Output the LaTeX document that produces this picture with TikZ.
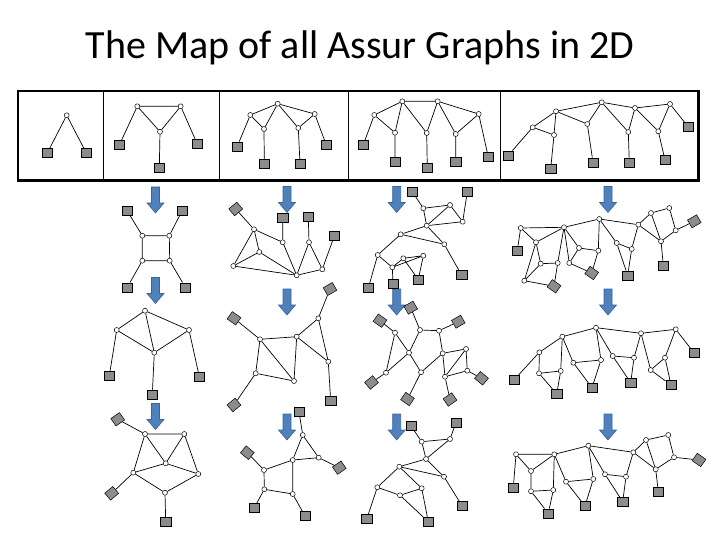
\documentclass[tikz,border=0pt]{standalone}
\usepackage{fontspec}
\setmainfont{Carlito}
\definecolor{ground}{HTML}{8C8C8C}
\definecolor{arrowfill}{HTML}{4F81BD}
\definecolor{arrowline}{HTML}{3B6496}
\begin{document}
\begin{tikzpicture}[
  x=1pt,y=-1pt,
  jt/.style={circle,draw,fill=white,inner sep=0pt,minimum size=5pt,line width=0.5pt},
  gd/.style={draw,fill=ground,inner sep=0pt,minimum width=10.5pt,minimum height=9pt,line width=0.5pt},
  ln/.style={line width=0.7pt},
  ar/.style={draw=arrowline,fill=arrowfill,line width=0.6pt},
  frame/.style={line width=2.5pt}]
\useasboundingbox (0,0) rectangle (720,540);
\node[font=\fontsize{40}{48}\selectfont,anchor=base] (title) at (360,59) {The Map of all Assur Graphs in 2D};

% top row of basic graphs
\draw[frame] (18,91) rectangle (698.5,180.5);
\draw[line width=1pt] (103.3,91)--(103.3,180.5) (219,91)--(219,180.5)
  (348,91)--(348,180.5) (500.5,91)--(500.5,180.5);

\node[jt] (a1) at (66.7,115.3) {};
\node[gd] (ag1) at (47.3,153) {}; \node[gd] (ag2) at (86.3,153) {};
\draw[ln] (a1)--(ag1) (a1)--(ag2);

\node[jt] (b1) at (137.3,106.3) {}; \node[jt] (b2) at (180.7,106.3) {};
\node[jt] (b3) at (160,131.7) {};
\node[gd] (bg1) at (119.3,145) {}; \node[gd] (bg2) at (197.3,144) {};
\node[gd] (bg3) at (159.3,168) {};
\draw[ln] (b1)--(b2) (b1)--(b3) (b2)--(b3) (b1)--(bg1) (b2)--(bg2) (b3)--(bg3);

\node[jt] (c1) at (277.7,103.7) {}; \node[jt] (c2) at (250.3,115) {};
\node[jt] (c3) at (314.7,114) {}; \node[jt] (c4) at (264,129) {};
\node[jt] (c5) at (298.3,128) {};
\node[gd] (cg1) at (237.3,146.3) {}; \node[gd] (cg2) at (264.3,164) {};
\node[gd] (cg3) at (300,164) {}; \node[gd] (cg4) at (326.3,145) {};
\draw[ln] (c1)--(c2) (c1)--(c3) (c1)--(c4) (c1)--(c5) (c2)--(c4) (c3)--(c5)
  (c2)--(cg1) (c4)--(cg2) (c5)--(cg3) (c3)--(cg4);

\node[jt] (d1) at (402.3,101.3) {}; \node[jt] (d2) at (437.7,101.3) {};
\node[jt] (d3) at (374.3,115) {}; \node[jt] (d4) at (478.7,114) {};
\node[jt] (d5) at (395,132.7) {}; \node[jt] (d6) at (426.7,133) {};
\node[jt] (d7) at (455.7,134) {};
\node[gd] (dg1) at (363.3,144.7) {}; \node[gd] (dg2) at (395,162) {};
\node[gd] (dg3) at (427.3,167.7) {}; \node[gd] (dg4) at (455.7,162) {};
\node[gd] (dg5) at (488.3,157) {};
\draw[ln] (d1)--(d2) (d1)--(d3) (d2)--(d4) (d3)--(d5) (d1)--(d5) (d1)--(d6)
  (d2)--(d6) (d2)--(d7) (d4)--(d7) (d3)--(dg1) (d5)--(dg2) (d6)--(dg3)
  (d7)--(dg4) (d4)--(dg5);

\node[jt] (e1) at (532.7,127.3) {}; \node[jt] (e2) at (556,111.3) {};
\node[jt] (e3) at (554,135) {}; \node[jt] (e4) at (601.7,102.3) {};
\node[jt] (e5) at (587.3,124) {}; \node[jt] (e6) at (635,108) {};
\node[jt] (e7) at (628.3,132) {}; \node[jt] (e8) at (670,104) {};
\node[jt] (e9) at (658.3,131.3) {};
\node[gd] (eg1) at (508.3,155.3) {}; \node[gd] (eg2) at (550.7,168.7) {};
\node[gd] (eg3) at (593,162.3) {}; \node[gd] (eg4) at (629.3,163) {};
\node[gd] (eg5) at (665,160) {}; \node[gd] (eg6) at (688.3,127) {};
\draw[ln] (e1)--(eg1) (e1)--(e2) (e1)--(e3) (e2)--(e3) (e2)--(e4) (e2)--(e5)
  (e4)--(e5) (e4)--(e6) (e4)--(e7) (e6)--(e7) (e6)--(e8) (e6)--(e9) (e8)--(e9)
  (e8)--(eg6) (e3)--(eg2) (e5)--(eg3) (e7)--(eg4) (e9)--(eg5);

% blue arrows
\foreach \x/\y in {155.5/187,155.5/277.5,155.5/403.5,287/186.5,287/289,287/414,
    396.7/186.5,396.7/289,396.7/414,608/186.5,608/289,608/414}
  \draw[ar] (\x,\y) ++(-4,0) -- ++(8,0) -- ++(0,16) -- ++(4.5,0) -- ++(-8.5,10)
    -- ++(-8.5,-10) -- ++(4.5,0) -- cycle;

% column 1
\node[jt] (f1) at (142.3,235.7) {}; \node[jt] (f2) at (169.3,235.7) {};
\node[jt] (f3) at (142.3,260.7) {}; \node[jt] (f4) at (169.7,260.7) {};
\node[gd] (fg1) at (127.3,211) {}; \node[gd] (fg2) at (182,211) {};
\node[gd] (fg3) at (127.3,287.3) {}; \node[gd] (fg4) at (185.3,287.3) {};
\draw[ln] (f1)--(f2) (f2)--(f4) (f4)--(f3) (f3)--(f1) (f1)--(fg1) (f2)--(fg2)
  (f3)--(fg3) (f4)--(fg4);

\node[jt] (p1) at (145,310.7) {}; \node[jt] (p2) at (116.7,330) {};
\node[jt] (p3) at (189,330) {}; \node[jt] (p4) at (154.3,352.7) {};
\node[gd] (pg1) at (109.3,375.7) {}; \node[gd] (pg2) at (152.3,394.3) {};
\node[gd] (pg3) at (199.3,376.7) {};
\draw[ln] (p1)--(p2) (p1)--(p3) (p1)--(p4) (p2)--(p4) (p3)--(p4) (p2)--(pg1)
  (p4)--(pg2) (p3)--(pg3);

\node[jt] (u1) at (145,434) {}; \node[jt] (u2) at (184.3,434) {};
\node[jt] (u3) at (165.7,463.3) {}; \node[jt] (u4) at (133.3,472.7) {};
\node[jt] (u5) at (198.3,474) {}; \node[jt] (u6) at (165,492.7) {};
\node[gd,rotate=35] (ug1) at (117.7,419.3) {}; \node[gd,rotate=40] (ug2) at (111.7,493.3) {};
\node[gd] (ug3) at (165.7,521.7) {};
\draw[ln] (ug1)--(u1) (u1)--(u2) (u1)--(u3) (u2)--(u3) (u1)--(u4) (u2)--(u5)
  (u3)--(u4) (u3)--(u5) (u4)--(u6) (u5)--(u6) (u4)--(ug2) (u6)--(ug3);

% column 2
\node[jt] (h1) at (254,229.3) {}; \node[jt] (h2) at (259.3,252) {};
\node[jt] (h3) at (233.3,266) {}; \node[jt] (h4) at (296.7,275.3) {};
\node[jt] (h5) at (282.7,242.3) {}; \node[jt] (h6) at (309,242.3) {};
\node[jt] (h7) at (322.3,269.3) {};
\node[gd,rotate=40] (hg1) at (235.7,209) {}; \node[gd] (hg2) at (282.7,217.7) {};
\node[gd] (hg3) at (308.3,216.7) {}; \node[gd] (hg4) at (334.3,236) {};
\draw[ln] (hg1)--(h1) (h1)--(h2) (h1)--(h3) (h2)--(h3) (h2)--(h4) (h3)--(h4)
  (h1)--(h5) (h5)--(hg2) (h5)--(h4) (h4)--(h6) (h6)--(hg3) (h6)--(h7)
  (h4)--(h7) (h7)--(hg4);

\node[jt] (q1) at (260,339.3) {}; \node[jt] (q2) at (296.7,336.7) {};
\node[jt] (q3) at (318.3,318.3) {}; \node[jt] (q4) at (328.3,361.7) {};
\node[jt] (q5) at (255.7,373.3) {}; \node[jt] (q6) at (294,381) {};
\node[gd,rotate=-35] (qg1) at (234,318.3) {}; \node[gd,rotate=30] (qg2) at (330,289) {};
\node[gd] (qg3) at (330.7,401) {}; \node[gd,rotate=40] (qg4) at (234,405) {};
\draw[ln] (qg1)--(q1) (q1)--(q2) (q1)--(q5) (q1)--(q6) (q5)--(q6) (q2)--(q6)
  (q2)--(q3) (q3)--(qg2) (q3)--(q4) (q2)--(q4) (q4)--(qg3) (q5)--(qg4);

\node[jt] (v1) at (302.7,435) {}; \node[jt] (v2) at (292.7,460) {};
\node[jt] (v3) at (318.7,457.7) {}; \node[jt] (v4) at (264,470) {};
\node[jt] (v5) at (264.3,489.3) {}; \node[jt] (v6) at (292.7,494) {};
\node[gd] (vg1) at (299,411.7) {}; \node[gd,rotate=-40] (vg2) at (247.3,452.7) {};
\node[gd,rotate=35] (vg3) at (339.3,467.7) {}; \node[gd] (vg4) at (254.3,507.7) {};
\node[gd] (vg5) at (305,516) {};
\draw[ln] (vg1)--(v1) (v1)--(v2) (v1)--(v3) (v2)--(v3) (v3)--(vg3) (v2)--(v4)
  (v2)--(v6) (v4)--(v5) (v5)--(v6) (v4)--(vg2) (v5)--(vg4) (v6)--(vg5);

% column 3
\node[jt] (m1) at (423.3,208.3) {}; \node[jt] (m2) at (450,205) {};
\node[jt] (m3) at (462.7,221.7) {}; \node[jt] (m4) at (426.7,225.7) {};
\node[jt] (m5) at (400.7,234.3) {}; \node[jt] (m6) at (444.3,244.3) {};
\node[jt] (m7) at (377.7,255) {}; \node[jt] (m8) at (392.3,267.3) {};
\node[jt] (m9) at (403.3,258.3) {}; \node[jt] (m10) at (423.3,255.7) {};
\node[gd] (mg1) at (412.3,191.7) {}; \node[gd] (mg2) at (467.3,191.7) {};
\node[gd] (mg3) at (368.3,288) {}; \node[gd] (mg4) at (393,283.7) {};
\node[gd] (mg5) at (418.3,279.7) {}; \node[gd] (mg6) at (461.5,275) {};
\draw[ln] (mg1)--(m1) (m1)--(m2) (m1)--(m4) (m2)--(m4) (m2)--(m3) (m4)--(m3)
  (m3)--(mg2) (m4)--(m5) (m4)--(m6) (m5)--(m6) (m6)--(mg6) (m5)--(m7)
  (m7)--(mg3) (m7)--(m8) (m8)--(mg4) (m8)--(m9) (m9)--(m10) (m8)--(m10)
  (m9)--(mg5) (m10)--(mg5);

\node[jt] (r1) at (395,332.7) {}; \node[jt] (r2) at (420,330) {};
\node[jt] (r3) at (439,330.7) {}; \node[jt] (r4) at (409,352.7) {};
\node[jt] (r5) at (442.7,353.3) {}; \node[jt] (r6) at (466,349) {};
\node[jt] (r7) at (386,372.7) {}; \node[jt] (r8) at (421,372.3) {};
\node[jt] (r9) at (467.3,370.7) {}; \node[jt] (r10) at (445,376.7) {};
\node[gd,rotate=30] (rg1) at (410.7,307.7) {}; \node[gd,rotate=-35] (rg2) at (380,320.7) {};
\node[gd,rotate=30] (rg3) at (458.3,321.7) {}; \node[gd,rotate=40] (rg4) at (371.5,382.5) {};
\node[gd,rotate=-35] (rg5) at (407.5,399) {}; \node[gd,rotate=35] (rg6) at (450,399.5) {};
\node[gd,rotate=-40] (rg7) at (481.5,378.3) {};
\draw[ln] (rg1)--(r2) (rg2)--(r1) (r1)--(r4) (r1)--(r7) (r4)--(r7) (r4)--(r2)
  (r4)--(r8) (r2)--(r3) (r3)--(rg3) (r3)--(r5) (r5)--(r8) (r8)--(rg5)
  (r7)--(rg4) (r5)--(r6) (r5)--(r10) (r6)--(r9) (r6)--(r10) (r9)--(r10)
  (r10)--(rg6) (r9)--(rg7);

\node[jt] (w1) at (421.7,441.7) {}; \node[jt] (w2) at (450,439) {};
\node[jt] (w3) at (426,459) {}; \node[jt] (w4) at (399.3,466.7) {};
\node[jt] (w5) at (444,476.7) {}; \node[jt] (w6) at (377.3,487.3) {};
\node[jt] (w7) at (400,495.3) {}; \node[jt] (w8) at (421.7,488.3) {};
\node[gd] (wg1) at (411,426) {}; \node[gd] (wg2) at (456,422.7) {};
\node[gd] (wg3) at (366.7,519) {}; \node[gd] (wg4) at (428.3,521.7) {};
\node[gd] (wg5) at (462,505.7) {};
\draw[ln] (wg1)--(w1) (w1)--(w2) (w1)--(w3) (w2)--(w3) (w2)--(wg2) (w3)--(w4)
  (w3)--(w5) (w4)--(w5) (w5)--(wg5) (w4)--(w6) (w6)--(wg3) (w6)--(w7)
  (w7)--(w8) (w7)--(wg4) (w8)--(wg4) (w4)--(w8);

% column 4
\node[jt] (n1) at (520.7,228) {}; \node[jt] (n2) at (536,242.3) {};
\node[jt] (n3) at (540.7,263.7) {}; \node[jt] (n4) at (557.7,263) {};
\node[jt] (n5) at (524.3,280.7) {}; \node[jt] (n6) at (564,227.3) {};
\node[jt] (n7) at (579,248) {}; \node[jt] (n8) at (598.3,250.7) {};
\node[jt] (n9) at (569.3,263) {}; \node[jt] (n10) at (599.3,219) {};
\node[jt] (n11) at (616.7,243) {}; \node[jt] (n12) at (631.7,249) {};
\node[jt] (n13) at (638.3,224.7) {}; \node[jt] (n14) at (651,213) {};
\node[jt] (n15) at (669.3,208) {}; \node[jt] (n16) at (675.7,230.3) {};
\node[jt] (n17) at (661,241.3) {};
\node[gd] (ng1) at (517.3,250.3) {}; \node[gd,rotate=-35] (ng2) at (554,286.3) {};
\node[gd,rotate=-35] (ng3) at (591.7,273) {}; \node[gd] (ng4) at (627.7,275.3) {};
\node[gd] (ng5) at (663.3,265.3) {}; \node[gd,rotate=30] (ng6) at (694.3,221.3) {};
\draw[ln] (n1)--(ng1) (n1)--(n6) (n1)--(n2) (n2)--(n6) (n2)--(n3) (n2)--(n5)
  (n3)--(n4) (n3)--(n5) (n5)--(ng2) (n4)--(ng2) (n4)--(n6)
  (n6)--(n10) (n6)--(n9) (n6)--(n7) (n7)--(n8) (n8)--(n10) (n8)--(ng3)
  (n9)--(ng3) (n7)--(n9)
  (n10)--(n11) (n10)--(n13) (n11)--(n12) (n11)--(ng4) (n12)--(ng4) (n12)--(n13)
  (n13)--(n14) (n13)--(n17) (n14)--(n15) (n14)--(n17) (n15)--(n16) (n16)--(n17)
  (n16)--(ng6) (n17)--(ng5);

\node[jt] (s1) at (539.3,352.3) {}; \node[jt] (s2) at (562.3,336.7) {};
\node[jt] (s3) at (539,373.3) {}; \node[jt] (s4) at (560.7,371) {};
\node[jt] (s5) at (596,327.7) {}; \node[jt] (s6) at (573.3,362.7) {};
\node[jt] (s7) at (601,360) {}; \node[jt] (s8) at (641,333.3) {};
\node[jt] (s9) at (612.7,356) {}; \node[jt] (s10) at (634,357.7) {};
\node[jt] (s11) at (675.7,329.3) {}; \node[jt] (s12) at (665,357.7) {};
\node[jt] (s13) at (650.7,370) {};
\node[gd] (sg1) at (514,380) {}; \node[gd] (sg2) at (556.7,394) {};
\node[gd] (sg3) at (592,387.7) {}; \node[gd] (sg4) at (630.7,382.7) {};
\node[gd] (sg5) at (671,385) {}; \node[gd] (sg6) at (694,352.7) {};
\draw[ln] (s1)--(sg1) (s1)--(s2) (s1)--(s3) (s2)--(s4) (s3)--(s4) (s3)--(sg2)
  (s4)--(sg2) (s2)--(s5) (s2)--(s6) (s6)--(s7) (s7)--(s5) (s6)--(sg3)
  (s7)--(sg3) (s5)--(s8) (s5)--(s9) (s9)--(s10) (s10)--(s8) (s9)--(sg4)
  (s10)--(sg4) (s8)--(s11) (s8)--(s13) (s11)--(s12) (s12)--(s13)
  (s11)--(sg6) (s13)--(sg5) (s12)--(sg5);

\node[jt] (x1) at (516,454.3) {}; \node[jt] (x2) at (531,471) {};
\node[jt] (x3) at (531,491.3) {}; \node[jt] (x4) at (553.3,490) {};
\node[jt] (x5) at (554.3,454.3) {}; \node[jt] (x6) at (588.3,445.7) {};
\node[jt] (x7) at (566,481.7) {}; \node[jt] (x8) at (593.3,479) {};
\node[jt] (x9) at (605,474.3) {}; \node[jt] (x10) at (626,476.7) {};
\node[jt] (x11) at (633.3,452.3) {}; \node[jt] (x12) at (646,440) {};
\node[jt] (x13) at (668.3,435) {}; \node[jt] (x14) at (674,457.3) {};
\node[jt] (x15) at (655.7,469.3) {};
\node[gd] (xg1) at (513.3,487.3) {}; \node[gd] (xg2) at (548.3,513.3) {};
\node[gd] (xg3) at (585,506) {}; \node[gd] (xg4) at (622.7,501.7) {};
\node[gd] (xg5) at (658.3,491.7) {}; \node[gd,rotate=-35] (xg6) at (699,460) {};
\draw[ln] (x1)--(xg1) (x1)--(x5) (x1)--(x2) (x2)--(x5) (x2)--(x3) (x3)--(x4)
  (x3)--(xg2) (x4)--(xg2) (x4)--(x5) (x5)--(x6) (x5)--(x7) (x7)--(x8)
  (x7)--(xg3) (x8)--(xg3) (x8)--(x6) (x6)--(x9) (x6)--(x11) (x9)--(x10)
  (x9)--(xg4) (x10)--(xg4) (x10)--(x11) (x11)--(x12) (x11)--(x15) (x12)--(x13)
  (x12)--(x15) (x13)--(x14) (x14)--(x15) (x14)--(xg6) (x15)--(xg5);
\end{tikzpicture}
\end{document}
